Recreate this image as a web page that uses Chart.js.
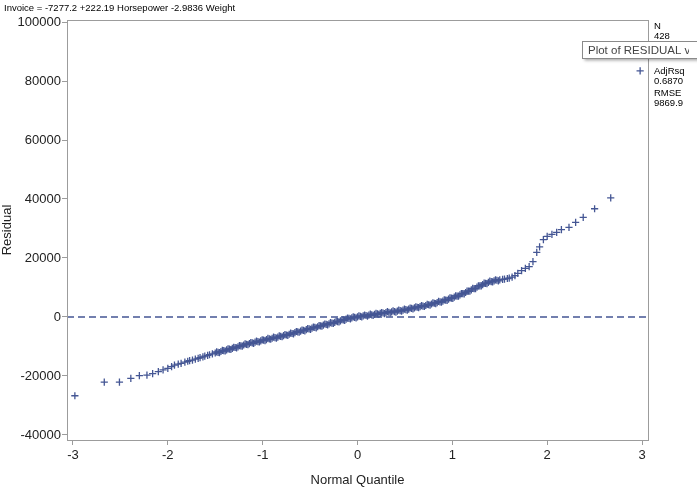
<!DOCTYPE html>
<html>
<head>
<meta charset="utf-8">
<script src="https://cdn.jsdelivr.net/npm/chart.js@4.4.0/dist/chart.umd.min.js"></script>
<style>
  body { margin: 0; background: #fff; }
  #wrap { width: 697px; height: 494px; }
</style>
</head>
<body>
<div id="wrap"><canvas id="myChart" width="697" height="494"></canvas></div>
<script>
const fitTitle = 'Invoice = -7277.2 +222.19 Horsepower -2.9836 Weight';
const statLabels = ['N', 'AdjRsq', 'RMSE'];
const statValues = ['428', '0.6870', '9869.9'];

const xTicks = [-3, -2, -1, 0, 1, 2, 3];
const yTicks = [-40000, -20000, 0, 20000, 40000, 60000, 80000, 100000];

// normal quantiles and residuals
const quantiles = [
  -2.98, -2.67, -2.51, -2.39, -2.30, -2.22, -2.16, -2.10, -2.05, -2.00,
  -1.96, -1.93, -1.89, -1.86, -1.82, -1.79, -1.77, -1.74, -1.71, -1.68,
  -1.66, -1.63, -1.61, -1.58, -1.56, -1.53, -1.50,
  -1.47, -1.44, -1.41, -1.38, -1.35, -1.32, -1.29, -1.26, -1.23, -1.20,
  -1.17, -1.14, -1.11, -1.08, -1.05, -1.02, -0.99, -0.96, -0.93, -0.90,
  -0.87, -0.84, -0.81, -0.78, -0.75, -0.72, -0.69, -0.66, -0.63, -0.60,
  -0.57, -0.54, -0.51, -0.48, -0.45, -0.42, -0.39, -0.36, -0.33, -0.30,
  -0.27, -0.24, -0.21, -0.18, -0.15, -0.12, -0.09, -0.06, -0.03, 0.00,
  0.03, 0.06, 0.09, 0.12, 0.15, 0.18, 0.21, 0.24, 0.27, 0.30,
  0.33, 0.36, 0.39, 0.42, 0.45, 0.48, 0.51, 0.54, 0.57, 0.60,
  0.63, 0.66, 0.69, 0.72, 0.75, 0.78, 0.81, 0.84, 0.87, 0.90,
  0.93, 0.96, 0.99, 1.02, 1.05, 1.08, 1.11, 1.14, 1.17, 1.20,
  1.23, 1.26, 1.29, 1.32, 1.35, 1.38, 1.41, 1.44, 1.47, 1.50,
  1.53, 1.55, 1.58, 1.60, 1.63, 1.66, 1.69, 1.73, 1.77, 1.81,
  1.85, 1.89, 1.92, 1.96, 2.00, 2.05, 2.10, 2.15, 2.23, 2.30,
  2.38, 2.50, 2.67, 2.98
];
const residuals = [
  -26700, -22100, -22100, -20800, -19900, -19700, -19200, -18500, -17900, -17400,
  -16800, -16300, -16000, -15700, -15300, -15000, -14800, -14600, -14300, -14000,
  -13800, -13500, -13300, -13000, -12800, -12500, -12200,
  -12000, -11700, -11400, -11150, -10900, -10650, -10350, -10100, -9800, -9500,
  -9250, -9000, -8800, -8550, -8350, -8100, -7850, -7650, -7400, -7200,
  -7000, -6800, -6550, -6350, -6100, -5850, -5600, -5300, -5050, -4800,
  -4550, -4300, -4050, -3800, -3550, -3300, -3000, -2750, -2500, -2300,
  -2050, -1800, -1550, -1300, -1000, -750, -500, -300, -100, 50,
  200, 350, 500, 650, 750, 900, 1050, 1200, 1350, 1500,
  1600, 1750, 1850, 2000, 2150, 2300, 2500, 2700, 2900, 3100,
  3300, 3500, 3700, 3900, 4150, 4400, 4650, 4900, 5150, 5400,
  5700, 6050, 6400, 6750, 7100, 7500, 7900, 8300, 8750, 9200,
  9650, 10100, 10550, 11000, 11400, 11750, 12000, 12250, 12450, 12600,
  12750, 12850, 13050, 13200, 13500, 14000, 14800, 15700, 16500, 17100,
  18800, 21900, 23800, 26200, 27300, 28000, 28700, 29600, 30400, 32100,
  33800, 36700, 40400, 83400
];

// extra points in the dense middle band (upper and lower edge of the band)
const bandQuantiles = [
  -1.485, -1.455, -1.425, -1.395, -1.365, -1.335, -1.305, -1.275, -1.245, -1.215,
  -1.185, -1.155, -1.125, -1.095, -1.065, -1.035, -1.005, -0.975, -0.945, -0.915,
  -0.885, -0.855, -0.825, -0.795, -0.765, -0.735, -0.705, -0.675, -0.645, -0.615,
  -0.585, -0.555, -0.525, -0.495, -0.465, -0.435, -0.405, -0.375, -0.345, -0.315,
  -0.285, -0.255, -0.225, -0.195, -0.165, -0.135, -0.105, -0.075, -0.045, -0.015,
  0.015, 0.045, 0.075, 0.105, 0.135, 0.165, 0.195, 0.225, 0.255, 0.285,
  0.315, 0.345, 0.375, 0.405, 0.435, 0.465, 0.495, 0.525, 0.555, 0.585,
  0.615, 0.645, 0.675, 0.705, 0.735, 0.765, 0.795, 0.825, 0.855, 0.885,
  0.915, 0.945, 0.975, 1.005, 1.035, 1.065, 1.095, 1.125, 1.155, 1.185,
  1.215, 1.245, 1.275, 1.305, 1.335, 1.365, 1.395, 1.425, 1.455, 1.485
];
const bandResiduals = [
  -11850, -12100, -11300, -11525, -10775, -11025, -10250, -10475, -9700, -9900,
  -9125, -9375, -8650, -8925, -8200, -8475, -7725, -8000, -7275, -7550,
  -6850, -7150, -6425, -6700, -5975, -6225, -5475, -5700, -4925, -5175,
  -4425, -4675, -3925, -4175, -3425, -3675, -2900, -3125, -2375, -2650,
  -1925, -2175, -1425, -1675, -900, -1125, -375, -650, 50, -275,
  375, 25, 675, 325, 950, 575, 1225, 875, 1525, 1175,
  1800, 1425, 2050, 1675, 2325, 1975, 2650, 2350, 3050, 2750,
  3450, 3150, 3850, 3550, 4275, 4025, 4775, 4525, 5275, 5025,
  5800, 5625, 6475, 6325, 7175, 7050, 7950, 7850, 8775, 8725,
  9675, 9625, 10575, 10525, 11450, 11325, 12125, 11875, 12600, 12275
];

const xMin = -3.063, xMax = 3.063;
const yMin = -41700, yMax = 100680;
const refValue = 0;

const markColor = '#445694';
const frameColor = '#9c9c9c';
const fontFam = '"Liberation Sans", Arial, sans-serif';

// frame around the plot, fit title, stats column and the hover box
const overlay = {
  id: 'overlay',
  afterDraw(chart) {
    const ctx = chart.ctx;
    const a = chart.chartArea;
    ctx.save();
    ctx.strokeStyle = frameColor;
    ctx.lineWidth = 1;
    ctx.strokeRect(Math.round(a.left) + 0.5, Math.round(a.top) + 0.5,
      Math.round(a.right - a.left), Math.round(a.bottom - a.top));

    ctx.fillStyle = '#000';
    ctx.font = '9.5px ' + fontFam;
    ctx.textBaseline = 'middle';
    ctx.fillText(fitTitle, 4, 8);

    ctx.font = '9.5px ' + fontFam;
    const statY = [26, 71, 93];
    statLabels.forEach((lab, i) => {
      ctx.fillText(lab, 654, statY[i]);
      ctx.fillText(statValues[i], 654, statY[i] + 10);
    });

    // hover box
    ctx.save();
    ctx.shadowColor = 'rgba(0,0,0,0.35)';
    ctx.shadowOffsetY = 2;
    ctx.shadowOffsetX = 1;
    ctx.shadowBlur = 3;
    ctx.fillStyle = '#fff';
    ctx.fillRect(582.5, 41.5, 120, 17);
    ctx.restore();
    ctx.strokeStyle = '#8a8a8a';
    ctx.strokeRect(582.5, 41.5, 120, 17);
    ctx.save();
    ctx.beginPath();
    ctx.rect(583, 42, 106, 16);
    ctx.clip();
    ctx.fillStyle = '#444';
    ctx.font = '11.5px ' + fontFam;
    ctx.fillText('Plot of RESIDUAL vs Normal Quantile', 588, 50.5);
    ctx.restore();
    ctx.restore();
  }
};

const ctx = document.getElementById('myChart');

const allX = quantiles.concat(bandQuantiles);
const allY = residuals.concat(bandResiduals);

const config = {
  type: 'scatter',
  data: {
    datasets: [
      {
        label: 'Residual',
        data: allX.map((q, i) => ({ x: q, y: allY[i] })),
        pointStyle: 'cross',
        pointRadius: 3.6,
        pointBorderWidth: 1.3,
        borderColor: markColor,
        backgroundColor: markColor,
        order: 1
      },
      {
        type: 'line',
        label: 'ref',
        data: [{ x: xMin, y: refValue }, { x: xMax, y: refValue }],
        borderColor: markColor,
        borderWidth: 1.4,
        borderDash: [7, 4],
        pointRadius: 0,
        order: 2
      }
    ]
  },
  options: {
    responsive: false,
    animation: false,
    devicePixelRatio: 1,
    events: [],
    layout: { padding: { top: 20, right: 49, left: 0, bottom: 0 } },
    plugins: {
      legend: { display: false },
      tooltip: { enabled: false }
    },
    scales: {
      x: {
        type: 'linear',
        min: xMin,
        max: xMax,
        afterBuildTicks: (axis) => { axis.ticks = xTicks.map(v => ({ value: v })); },
        afterFit: (axis) => { axis.height = 54; },
        grid: { drawOnChartArea: false, drawTicks: true, tickLength: 5, color: frameColor },
        border: { color: frameColor },
        ticks: {
          maxRotation: 0,
          padding: 3,
          color: '#222',
          font: { family: fontFam, size: 13 }
        },
        title: {
          display: true,
          text: 'Normal Quantile',
          color: '#222',
          font: { family: fontFam, size: 13 },
          padding: { top: 0, bottom: 6 }
        }
      },
      y: {
        type: 'linear',
        min: yMin,
        max: yMax,
        afterBuildTicks: (axis) => { axis.ticks = yTicks.map(v => ({ value: v })); },
        afterFit: (axis) => { axis.width = 67; },
        grid: { drawOnChartArea: false, drawTicks: true, tickLength: 5, color: frameColor },
        border: { color: frameColor },
        ticks: {
          padding: 1,
          color: '#222',
          font: { family: fontFam, size: 13 },
          callback: (v) => String(v)
        },
        title: {
          display: true,
          text: 'Residual',
          color: '#222',
          font: { family: fontFam, size: 13 },
          padding: { top: 0, bottom: 0 }
        }
      }
    }
  },
  plugins: [overlay]
};

new Chart(ctx, config);
</script>
</body>
</html>
